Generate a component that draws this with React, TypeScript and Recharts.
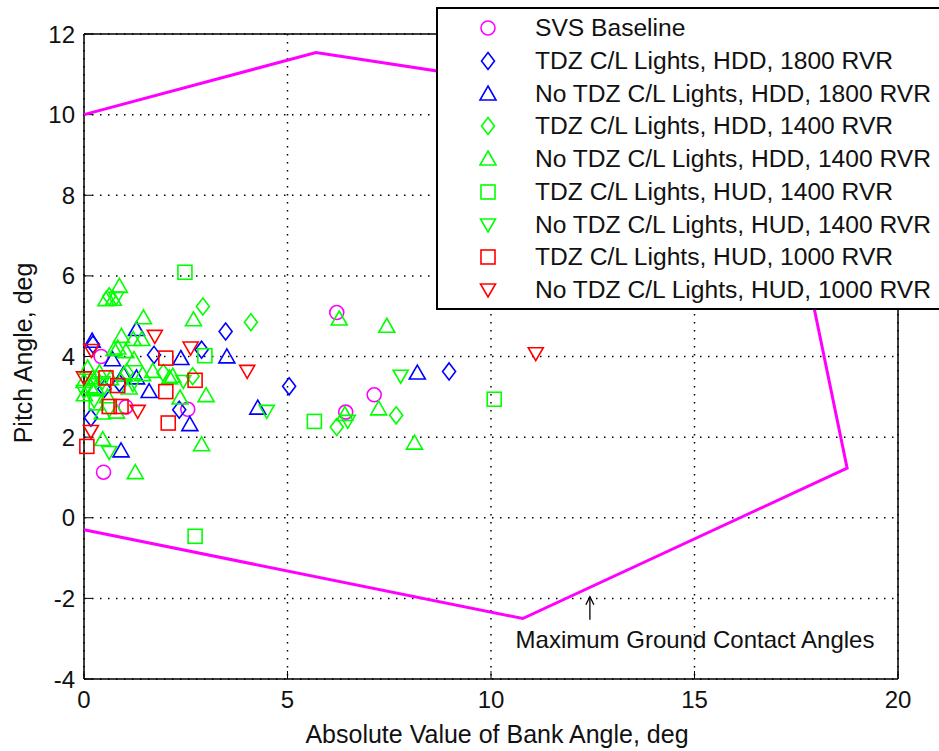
import React from 'react';
import { CartesianGrid, ReferenceLine, Scatter, ScatterChart, XAxis, YAxis } from 'recharts';

type Pt = [number, number];
type Kind = 'circle' | 'diamond' | 'up' | 'down' | 'square';

const xTicks = [0, 5, 10, 15, 20];
const yTicks = [-4, -2, 0, 2, 4, 6, 8, 10, 12];

// maximum ground contact envelope (bank, pitch)
const envelope: Pt[] = [
  [0, 10.0], [5.7, 11.54], [17.0, 9.8], [18.75, 1.23], [10.78, -2.5], [0, -0.3],
];

const svsBaseline: Pt[] = [
  [0.42, 4.0], [0.48, 1.13], [1.03, 2.75], [2.55, 2.69], [6.21, 5.09], [7.13, 3.05], [6.43, 2.62],
];

const tdzHdd1800: Pt[] = [
  [0.22, 4.3], [0.17, 2.48], [0.87, 3.34], [0.5, 3.2], [1.72, 4.04], [2.34, 2.68],
  [2.89, 4.17], [3.48, 4.62], [5.04, 3.26], [8.97, 3.63],
];

const noTdzHdd1800: Pt[] = [
  [0.2, 4.38], [0.7, 3.92], [0.91, 1.66], [0.97, 3.55], [1.29, 4.67], [1.29, 3.47],
  [1.6, 3.13], [2.38, 3.95], [2.6, 2.31], [3.51, 3.99], [4.27, 2.72], [8.19, 3.59],
];

const tdzHdd1400: Pt[] = [
  [0.62, 5.49], [0.3, 3.45], [1.05, 3.6], [1.95, 3.59], [2.67, 3.51], [2.92, 5.24],
  [4.1, 4.85], [6.21, 2.25], [7.67, 2.54],
];

const noTdzHdd1400: Pt[] = [
  [0.87, 5.74], [0.54, 5.41], [0.72, 5.42], [1.46, 4.96], [2.69, 4.91], [0.92, 4.5],
  [1.21, 4.42], [1.42, 4.42], [0.83, 4.21], [0.74, 4.17], [1.03, 4.12], [1.23, 3.92],
  [0.09, 3.71], [0.21, 3.47], [0, 3.38], [0.29, 3.22], [0.01, 3.05], [0.99, 3.55],
  [1.44, 3.55], [1.11, 3.22], [1.69, 3.63], [2.1, 3.47], [2.18, 3.51], [2.36, 2.97],
  [3.0, 3.03], [2.89, 1.81], [1.26, 1.12], [0.46, 1.94], [0.45, 2.6], [0.8, 2.62],
  [0.38, 3.6], [0.58, 3.0], [0.15, 3.25], [0.65, 3.45],
  [6.27, 4.93], [7.44, 4.75], [7.24, 2.7], [6.41, 2.56], [8.12, 1.85],
];

const tdzHud1400: Pt[] = [
  [2.48, 6.09], [2.97, 4.02], [5.66, 2.39], [10.08, 2.94], [2.73, -0.46], [0.3, 2.85],
];

const noTdzHud1400: Pt[] = [
  [0.79, 5.45], [0, 3.13], [0.25, 2.9], [0.62, 1.62], [0.45, 3.35], [1.2, 3.3],
  [2.44, 3.38], [4.49, 2.64], [6.48, 2.39], [7.78, 3.51],
];

const tdzHud1000: Pt[] = [
  [0.07, 1.77], [0.54, 3.47], [0.83, 3.28], [0.62, 2.76], [0.91, 2.76], [2.01, 3.13],
  [2.01, 3.96], [2.07, 2.35], [2.73, 3.41],
];

const noTdzHud1000: Pt[] = [
  [0, 3.47], [0.18, 4.15], [0.17, 2.14], [1.32, 2.64], [1.74, 4.5], [2.62, 4.21],
  [4.01, 3.63], [11.1, 4.07],
];

const arrowX = 12.43;
const arrowBase = -2.53;
const arrowTip = -1.96;

const series = [
  { name: 'SVS Baseline', data: svsBaseline, kind: 'circle' as Kind, color: '#ff00ff' },
  { name: 'TDZ C/L Lights, HDD, 1800 RVR', data: tdzHdd1800, kind: 'diamond' as Kind, color: '#0000ff' },
  { name: 'No TDZ C/L Lights, HDD, 1800 RVR', data: noTdzHdd1800, kind: 'up' as Kind, color: '#0000ff' },
  { name: 'TDZ C/L Lights, HDD, 1400 RVR', data: tdzHdd1400, kind: 'diamond' as Kind, color: '#00ff00' },
  { name: 'No TDZ C/L Lights, HDD, 1400 RVR', data: noTdzHdd1400, kind: 'up' as Kind, color: '#00ff00' },
  { name: 'TDZ C/L Lights, HUD, 1400 RVR', data: tdzHud1400, kind: 'square' as Kind, color: '#00ff00' },
  { name: 'No TDZ C/L Lights, HUD, 1400 RVR', data: noTdzHud1400, kind: 'down' as Kind, color: '#00ff00' },
  { name: 'TDZ C/L Lights, HUD, 1000 RVR', data: tdzHud1000, kind: 'square' as Kind, color: '#ff0000' },
  { name: 'No TDZ C/L Lights, HUD, 1000 RVR', data: noTdzHud1000, kind: 'down' as Kind, color: '#ff0000' },
];

const toPts = (arr: Pt[]) => arr.map(([x, y]) => ({ x, y }));

const FONT = '"Liberation Sans", Arial, sans-serif';

function Marker({ kind, color, cx, cy }: { kind: Kind; color: string; cx: number; cy: number }) {
  const st = { fill: 'none', stroke: color, strokeWidth: 1.6 };
  switch (kind) {
    case 'circle':
      return <circle cx={cx} cy={cy} r={7} {...st} />;
    case 'square':
      return <rect x={cx - 7} y={cy - 7} width={14} height={14} {...st} />;
    case 'diamond':
      return <path d={`M${cx},${cy - 8.5}L${cx + 6.5},${cy}L${cx},${cy + 8.5}L${cx - 6.5},${cy}Z`} {...st} />;
    case 'up':
      return <path d={`M${cx},${cy - 8}L${cx + 8},${cy + 6}L${cx - 8},${cy + 6}Z`} {...st} />;
    default:
      return <path d={`M${cx},${cy + 7}L${cx + 7.5},${cy - 6}L${cx - 7.5},${cy - 6}Z`} {...st} />;
  }
}

function Arrow(p: any) {
  const { x1, y1, x2, y2 } = p;
  const tipY = Math.min(y1, y2);
  const baseY = Math.max(y1, y2);
  return (
    <g stroke="#000" strokeWidth={1.3} fill="none">
      <line x1={x1} y1={baseY} x2={x2} y2={tipY} />
      <path d={`M${x1 - 4},${tipY + 8}L${x1},${tipY}L${x1 + 4},${tipY + 8}`} />
    </g>
  );
}

export default function App() {
  const tickStyle = { fill: '#111', fontSize: 24, fontFamily: FONT };
  const axisLine = { stroke: '#000', strokeWidth: 1.5 };
  return (
    <div
      style={{
        position: 'absolute',
        left: 0,
        top: 0,
        width: 939,
        height: 751,
        overflow: 'hidden',
        background: '#fff',
        fontFamily: FONT,
        color: '#111',
      }}
    >
      <ScatterChart width={939} height={751} margin={{ top: 24, right: 31, bottom: 32, left: 24 }}>
        <CartesianGrid stroke="#000" strokeWidth={1.5} strokeDasharray="1.5 6.5" />
        <XAxis
          type="number"
          dataKey="x"
          domain={[0, 20]}
          ticks={xTicks}
          interval={0}
          height={40}
          tickSize={-8}
          tickMargin={20}
          axisLine={axisLine}
          tickLine={{ stroke: '#000' }}
          tick={tickStyle}
        />
        <XAxis
          xAxisId="top"
          orientation="top"
          type="number"
          domain={[0, 20]}
          ticks={xTicks}
          interval={0}
          height={10}
          tickSize={-8}
          axisLine={axisLine}
          tickLine={{ stroke: '#000' }}
          tick={false}
        />
        <YAxis
          type="number"
          dataKey="y"
          domain={[-4, 12]}
          ticks={yTicks}
          interval={0}
          width={60}
          tickSize={-8}
          tickMargin={17}
          axisLine={axisLine}
          tickLine={{ stroke: '#000' }}
          tick={tickStyle}
        />
        <YAxis
          yAxisId="right"
          orientation="right"
          type="number"
          domain={[-4, 12]}
          ticks={yTicks}
          interval={0}
          width={10}
          tickSize={-8}
          axisLine={axisLine}
          tickLine={{ stroke: '#000' }}
          tick={false}
        />
        <Scatter
          data={toPts(envelope)}
          line={{ stroke: '#ff00ff', strokeWidth: 3 }}
          shape={() => <g />}
          isAnimationActive={false}
        />
        {series.map((s) => (
          <Scatter
            key={s.name}
            name={s.name}
            data={toPts(s.data)}
            isAnimationActive={false}
            shape={(p: any) => <Marker kind={s.kind} color={s.color} cx={p.cx} cy={p.cy} />}
          />
        ))}
        <ReferenceLine
          segment={[
            { x: arrowX, y: arrowBase },
            { x: arrowX, y: arrowTip },
          ]}
          shape={Arrow}
        />
      </ScatterChart>

      <div
        style={{
          position: 'absolute',
          left: 436,
          top: 7,
          width: 520,
          height: 299,
          border: '2px solid #000',
          background: '#fff',
        }}
      >
        {series.map((s, i) => (
          <div
            key={s.name}
            style={{
              position: 'absolute',
              left: 0,
              top: 19 + i * 32.75 - 16,
              height: 32,
              lineHeight: '32px',
              width: 520,
              whiteSpace: 'nowrap',
              fontSize: 24.6,
            }}
          >
            <svg width={24} height={24} style={{ position: 'absolute', left: 38, top: 4 }}>
              <Marker kind={s.kind} color={s.color} cx={12} cy={12} />
            </svg>
            <span style={{ position: 'absolute', left: 97 }}>{s.name}</span>
          </div>
        ))}
      </div>

      <div
        style={{
          position: 'absolute',
          left: 23,
          top: 353,
          transform: 'translate(-50%, -50%) rotate(-90deg)',
          whiteSpace: 'nowrap',
          fontSize: 25,
          lineHeight: '25px',
        }}
      >
        Pitch Angle, deg
      </div>
      <div
        style={{
          position: 'absolute',
          left: 497,
          top: 722,
          transform: 'translateX(-50%)',
          whiteSpace: 'nowrap',
          fontSize: 25,
          lineHeight: '25px',
        }}
      >
        Absolute Value of Bank Angle, deg
      </div>
      <div
        style={{
          position: 'absolute',
          left: 695,
          top: 628,
          transform: 'translateX(-50%)',
          whiteSpace: 'nowrap',
          fontSize: 24,
          lineHeight: '24px',
        }}
      >
        Maximum Ground Contact Angles
      </div>
    </div>
  );
}
